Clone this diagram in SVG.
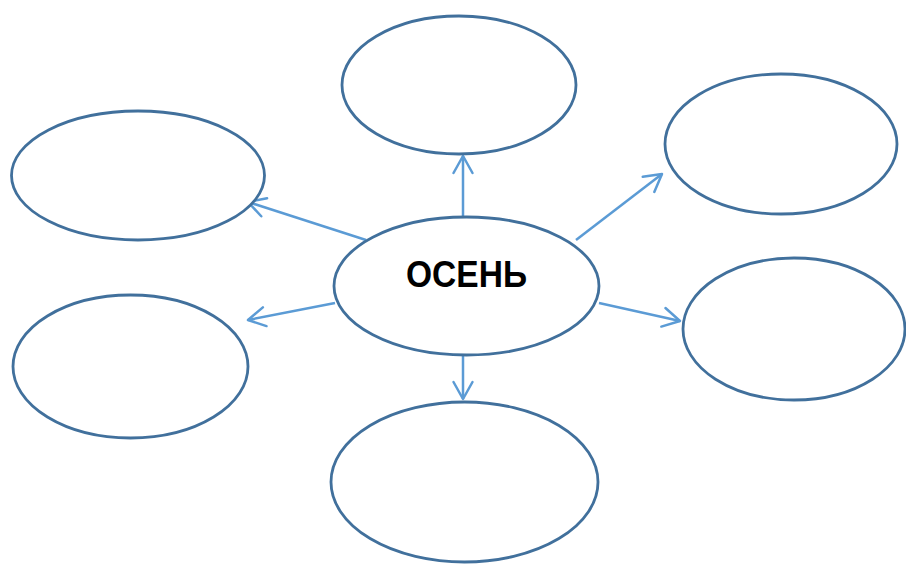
<svg xmlns="http://www.w3.org/2000/svg" width="906" height="565" viewBox="0 0 906 565">
  <style>
    .node { fill: #ffffff; stroke: #41709C; stroke-width: 2.8; }
    .conn { stroke: #5B9BD5; stroke-width: 2.5; fill: none; marker-end: url(#arrow); }
    .label { font-family: "Liberation Sans", Arial, sans-serif; font-weight: bold; font-size: 37px; fill: #000000; }
  </style>
  <defs>
    <marker id="arrow" markerUnits="userSpaceOnUse" viewBox="-20 -12 24 24" refX="0" refY="0" markerWidth="24" markerHeight="24" orient="auto">
      <path d="M -17,-9.5 L 0,0 L -17,9.5" fill="none" stroke="#5B9BD5" stroke-width="2.5" stroke-linecap="round" stroke-linejoin="round"/>
    </marker>
  </defs>
  <rect width="906" height="565" fill="#ffffff"/>
  <g id="connectors">
    <line class="conn" x1="463" y1="216" x2="463" y2="156"/>
    <line class="conn" x1="463" y1="355" x2="463" y2="399"/>
    <line class="conn" x1="576" y1="240" x2="662" y2="174"/>
    <line class="conn" x1="599" y1="303" x2="680" y2="321"/>
    <line class="conn" x1="366" y1="240" x2="248" y2="202"/>
    <line class="conn" x1="335" y1="303" x2="248" y2="320"/>
  </g>
  <g id="node-center">
    <ellipse class="node" cx="466.5" cy="286" rx="132.5" ry="69"/>
    <text class="label" x="466.5" y="287" text-anchor="middle" textLength="121" lengthAdjust="spacingAndGlyphs">ОСЕНЬ</text>
  </g>
  <g id="node-top">
    <ellipse class="node" cx="459" cy="85" rx="117" ry="69"/>
  </g>
  <g id="node-top-right">
    <ellipse class="node" cx="781" cy="144" rx="116" ry="70"/>
  </g>
  <g id="node-right">
    <ellipse class="node" cx="794" cy="329" rx="111" ry="71"/>
  </g>
  <g id="node-bottom">
    <ellipse class="node" cx="464.5" cy="482" rx="133.5" ry="80"/>
  </g>
  <g id="node-left-bottom">
    <ellipse class="node" cx="130.5" cy="366.5" rx="117.5" ry="71.5"/>
  </g>
  <g id="node-left-top">
    <ellipse class="node" cx="138" cy="175.5" rx="126.5" ry="64.5"/>
  </g>
</svg>
